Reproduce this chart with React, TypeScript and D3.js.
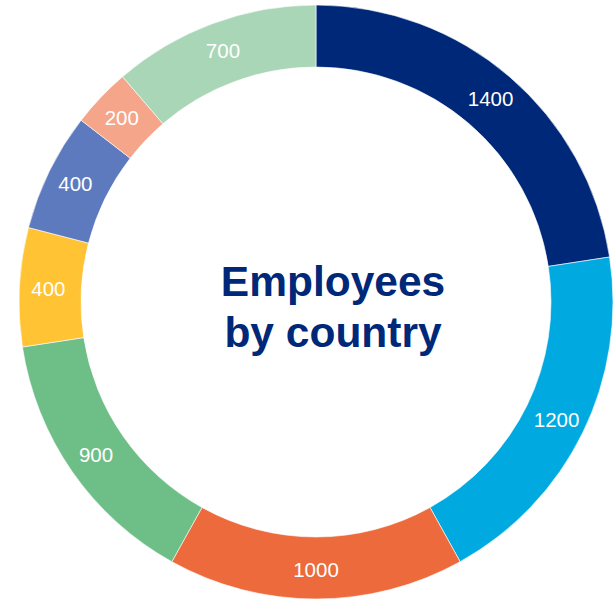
import React from "react";
import * as d3 from "d3";

const values = [1400, 1200, 1000, 900, 400, 400, 200, 700];
const colors = ["#002878", "#00AAE0", "#EC6A3B", "#6EBE87", "#FFC333", "#5E7ABE", "#F5A58A", "#A9D6B6"];
const titleLines = ["Employees", "by country"];

export default function App() {
  const width = 616;
  const height = 600;
  const cx = 316;
  const cy = 302;
  const outer = 297;
  const inner = 235;
  const pie = d3.pie<number>().value((d) => d).sort(null);
  const arcs = pie(values);
  const arc = d3.arc<d3.PieArcDatum<number>>().innerRadius(inner).outerRadius(outer);
  const labelArc = d3.arc<d3.PieArcDatum<number>>().innerRadius(inner + 2).outerRadius(outer + 2);
  return (
    <svg width={width} height={height} style={{ position: "absolute", left: 0, top: 0 }}>
      <g transform={`translate(${cx},${cy})`}>
        {arcs.map((a, i) => (
          <path key={i} d={arc(a) || ""} fill={colors[i]} stroke="#fff" strokeWidth={0.6} />
        ))}
        {arcs.map((a, i) => {
          const [x, y] = labelArc.centroid(a);
          return (
            <text key={"t" + i} x={x} y={y} dy="0.36em" textAnchor="middle" fill="#fff"
              fontFamily="'Liberation Sans', Arial, sans-serif" fontSize={20.5}>
              {values[i]}
            </text>
          );
        })}
        {titleLines.map((t, i) => (
          <text key={"h" + i} x={17} y={-6 + i * 51} textAnchor="middle" fill="#002878"
            fontFamily="'Liberation Sans', Arial, sans-serif" fontWeight="bold" fontSize={42.5}>
            {t}
          </text>
        ))}
      </g>
    </svg>
  );
}
